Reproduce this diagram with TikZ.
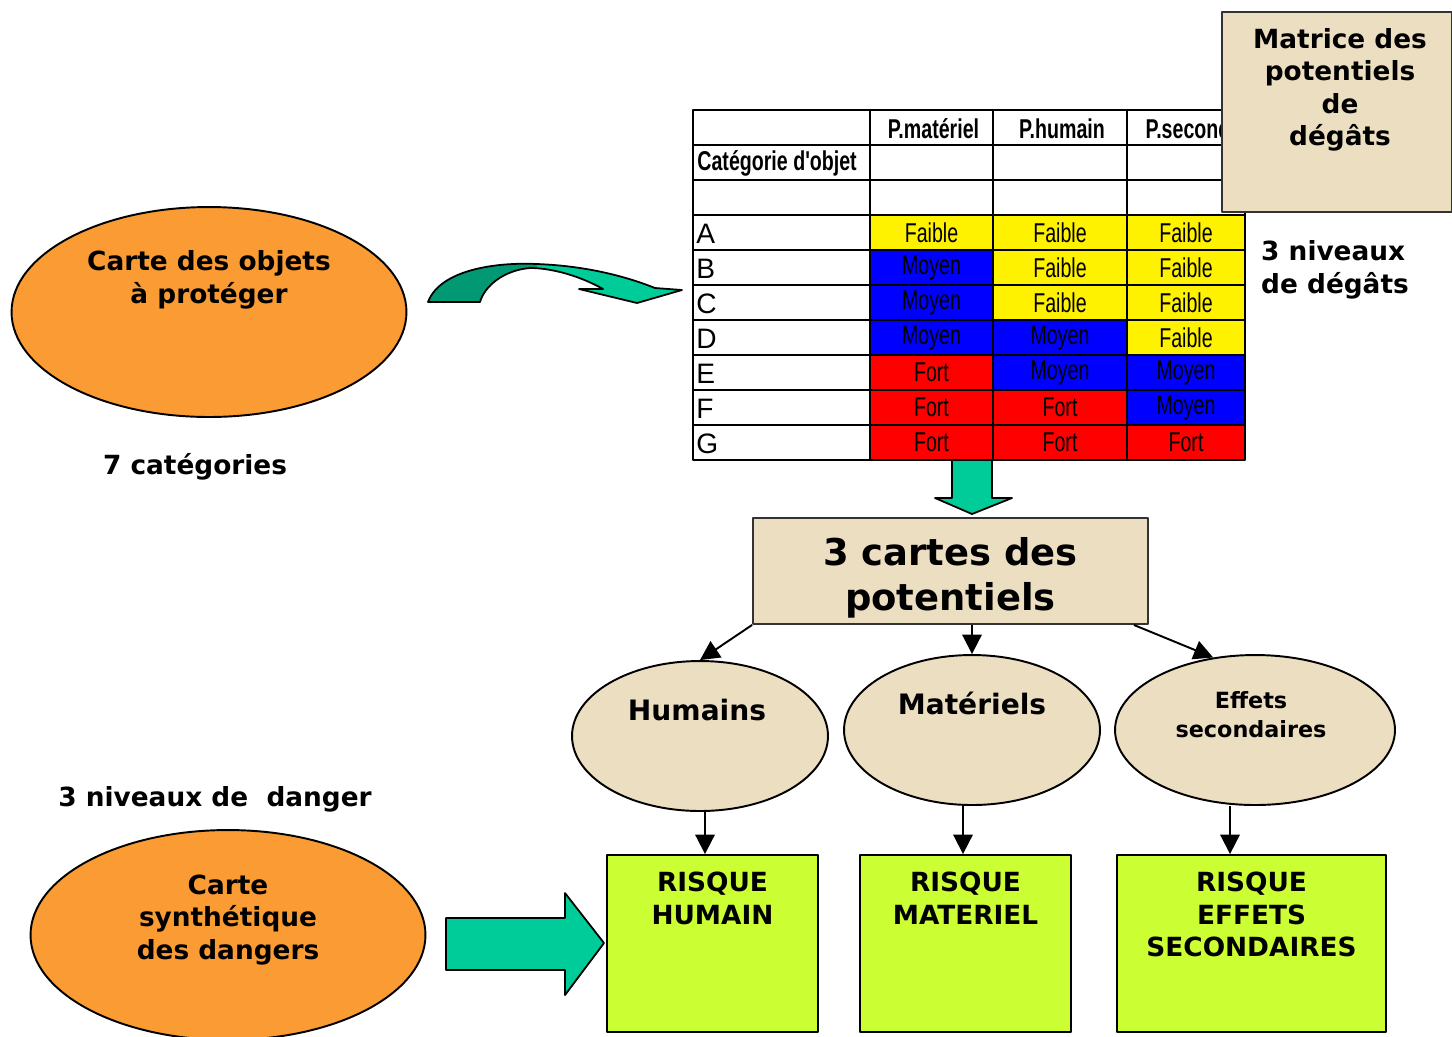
\documentclass[tikz,border=0pt]{standalone}
\usepackage{fontspec}
\usepackage{graphicx}
\usepackage{xcolor}
\setmainfont{DejaVu Sans}
\newfontfamily\tabfont{Liberation Sans}
\usetikzlibrary{shapes.geometric,arrows.meta,positioning,calc}

\definecolor{orangec}{RGB}{250,155,51}
\definecolor{parch}{RGB}{236,222,193}
\definecolor{vertr}{RGB}{204,255,51}
\definecolor{turq}{RGB}{0,204,153}
\definecolor{turqf}{RGB}{0,153,115}

\newcommand\txtF{Faible}
\newcommand\txtM{Moyen}
\newcommand\txtT{Fort}
\newcommand\cond[1]{\scalebox{0.72}[1]{#1}}
\newcommand\courbe{(428,302) .. controls (440,270) and (495,262) .. (537,264)
  .. controls (590,266) and (630,278) .. (655,288) -- (682,290) -- (637,303)
  -- (579,289) -- (603,289) .. controls (580,276) and (552,268) .. (530,268)
  .. controls (505,270) and (485,285) .. (480,302) -- cycle}

\begin{document}
\begin{tikzpicture}[x=0.02cm, y=-0.02cm, line join=round,
  every node/.style={font=\bfseries\fontsize{15}{18.5}\selectfont, align=center},
  carte/.style={ellipse, draw, line width=1.1pt, fill=orangec, minimum width=7.9cm, minimum height=4.2cm},
  pot/.style={ellipse, draw, line width=1.1pt, fill=parch, minimum height=3cm},
  parchbox/.style={rectangle, draw=black!80, line width=1.1pt, fill=parch},
  risque/.style={rectangle, draw, line width=1.1pt, fill=vertr, minimum height=3.54cm},
  cell/.style={rectangle, draw, line width=1.1pt, inner sep=0pt, minimum height=0.7cm, font=\tabfont\fontsize{15.5}{15.5}\selectfont},
  tabtxt/.style={inner sep=0pt, font=\tabfont\fontsize{16}{16}\selectfont},
  tabhead/.style={inner sep=0pt, font=\tabfont\bfseries\fontsize{15.5}{15.5}\selectfont},
  lvlF/.style={fill=yellow}, lvlM/.style={fill=blue}, lvlT/.style={fill=red},
  fleche/.style={-{Triangle[length=11pt,width=11pt]}, line width=1.1pt},
  bloc/.style={draw, line width=1pt, fill=turq}]
\useasboundingbox (0,0) rectangle (1452,1036);

% carte des objets
\node[carte] (objets) at (209,312) {};
\node (tobjets) at (209,280) {Carte des objets\\à protéger};
\node (cat) at (195,467) {7 catégories};

% fleche courbe
\fill[turq] \courbe;
\begin{scope}
  \clip (400,240) rectangle (537,320);
  \fill[turqf] \courbe;
\end{scope}
\draw[line width=1pt] \courbe;

% tableau
\foreach \yy [count=\i] in {127.5,162.5,197.5} {
  \node[cell, minimum width=3.54cm] (e\i-0) at (781.5,\yy) {};
  \node[cell, minimum width=2.46cm] (e\i-1) at (931.5,\yy) {};
  \node[cell, minimum width=2.68cm] (e\i-2) at (1060,\yy) {};
  \node[cell, minimum width=2.36cm] (e\i-3) at (1186,\yy) {};
}
\node[tabhead] at ($(e1-1)+(2,1)$) {\cond{P.matériel}};
\node[tabhead] at ($(e1-2)+(2,1)$) {\cond{P.humain}};
\node[tabhead] at ($(e1-3)+(2,1)$) {\cond{P.second}};
\node[tabhead, anchor=west] at ($(e2-0.west)+(5,1)$) {\cond{Catégorie d'objet}};

\foreach \cat/\vm/\vh/\vs [count=\i] in {A/F/F/F, B/M/F/F, C/M/F/F, D/M/M/F, E/T/M/M, F/T/T/M, G/T/T/T} {
  \node[cell, minimum width=3.54cm] (l\i) at (781.5,197.5+35*\i) {};
  \node[tabtxt, anchor=west] at ($(l\i.west)+(4,1)$) {\cat};
  \node[cell, lvl\vm, minimum width=2.46cm] (m\i) at (931.5,197.5+35*\i) {\cond{\csname txt\vm\endcsname}};
  \node[cell, lvl\vh, minimum width=2.68cm] (h\i) at (1060,197.5+35*\i) {\cond{\csname txt\vh\endcsname}};
  \node[cell, lvl\vs, minimum width=2.36cm] (s\i) at (1186,197.5+35*\i) {\cond{\csname txt\vs\endcsname}};
}

% matrice
\node[parchbox, minimum width=4.6cm, minimum height=4cm] (matrice) at (1337,112) {};
\node (tmatrice) at (1340,90) {Matrice des\\ potentiels\\de\\dégâts};
\node[anchor=west, align=left] (niv) at (1255,270) {3 niveaux\\de dégâts};

% fleche vers le bas
\draw[bloc] (952,460) -- (992,460) -- (992,498) -- (1012,498) -- (972,514)
  -- (935,498) -- (952,498) -- cycle;

% cartes des potentiels
\node[parchbox, minimum width=7.9cm, minimum height=2.12cm] (cartes) at (950.5,571) {};
\node[font=\bfseries\fontsize{21}{25.5}\selectfont] (tcartes) at (950.5,578) {3 cartes des\\potentiels};

\node[pot, minimum width=5.12cm] (hum) at (700,736) {};
\node[font=\bfseries\fontsize{16}{19}\selectfont] (thum) at (697,710) {Humains};
\node[pot, minimum width=5.12cm] (mat) at (972,730) {};
\node[font=\bfseries\fontsize{16}{19}\selectfont] (tmat) at (972,703) {Matériels};
\node[pot, minimum width=5.6cm] (eff) at (1255,730) {};
\node[font=\bfseries\fontsize{12.7}{16.4}\selectfont] (teff) at (1251,715) {Effets\\secondaires};

\coordinate (dmat) at (cartes.south -| mat.north);
\coordinate (deff) at ($(cartes.south east)+(-15,0)$);
\draw[fleche] (cartes.south west) -- (hum.north);
\draw[fleche] (dmat) -- (mat.north);
\draw[fleche] (deff) -- (eff.120);

% risques
\node[risque, minimum width=4.22cm] (rh) at (712.5,943.5) {};
\node[anchor=north] at ($(rh.north)+(0,12)$) {RISQUE\\HUMAIN};
\node[risque, minimum width=4.22cm] (rm) at (965.5,943.5) {};
\node[anchor=north] at ($(rm.north)+(0,12)$) {RISQUE\\MATERIEL};
\node[risque, minimum width=5.38cm] (rs) at (1251.5,943.5) {};
\node[anchor=north] at ($(rs.north)+(0,12)$) {RISQUE\\EFFETS\\SECONDAIRES};

\coordinate (bhum) at ($(hum.south)+(5,0)$);
\coordinate (bmat) at ($(mat.south)+(-9,0)$);
\coordinate (beff) at ($(eff.south)+(-25,0)$);
\draw[fleche] (bhum) -- (bhum |- rh.north);
\draw[fleche] (bmat) -- (bmat |- rm.north);
\draw[fleche] (beff) -- (beff |- rs.north);

% carte synthetique
\node (danger) at (215,799) {3 niveaux de\ \ danger};
\node[carte] (synth) at (228,935) {};
\node (tsynth) at (228,920) {Carte\\synthétique\\des dangers};
\draw[bloc] (446,918) -- (565,918) -- (565,893) -- (604,943) -- (565,995)
  -- (565,970) -- (446,970) -- cycle;
\end{tikzpicture}
\end{document}
